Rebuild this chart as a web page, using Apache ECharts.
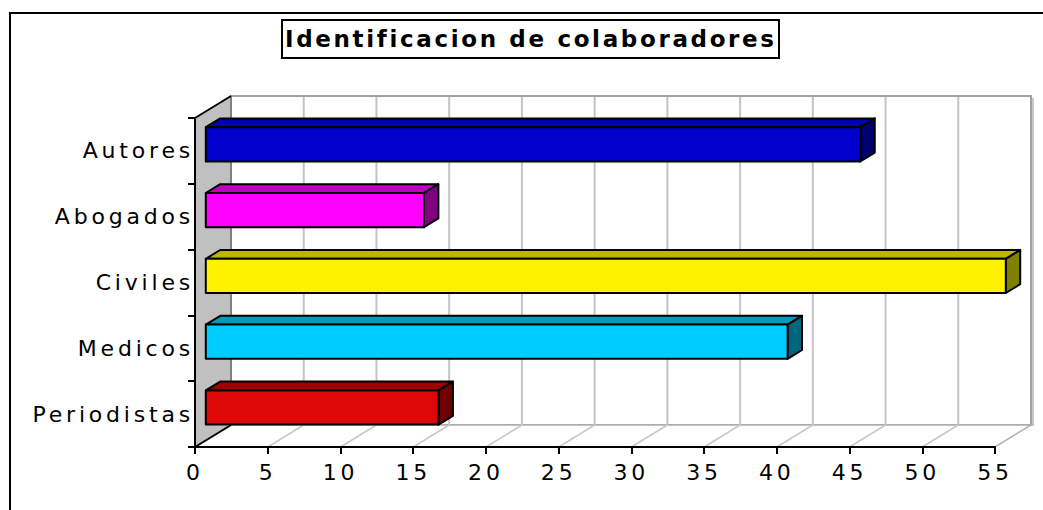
<!DOCTYPE html>
<html><head><meta charset="utf-8">
<script src="https://cdn.jsdelivr.net/npm/echarts@6/dist/echarts.min.js"></script>
<style>
html,body{margin:0;padding:0;background:#fff;}
#c{width:1043px;height:510px;}
#c svg text{letter-spacing:3.8px;}
#c svg text[style*="bold"]{letter-spacing:2.65px;}
</style></head><body><div id="c"></div>
<script>
const titleText = 'Identificacion de colaboradores';
const categories = ['Autores', 'Abogados', 'Civiles', 'Medicos', 'Periodistas'];
const values = [45, 15, 55, 40, 16];
const xTicks = [0, 5, 10, 15, 20, 25, 30, 35, 40, 45, 50, 55];
const frontColors = ['#0000CC', '#FF00FF', '#FFF200', '#00CCFF', '#DD0808'];
const topColors = ['#0000B4', '#C000C0', '#C0B600', '#0099C0', '#A00000'];
const sideColors = ['#000070', '#800080', '#808000', '#006680', '#700000'];

const DX = 36, DY = -22;      // depth offset of the back wall
const F1 = 0.3, F2 = 0.7;     // bar depth placement
const FONT = 'DejaVu Sans';

const chart = echarts.init(document.getElementById('c'), null, {renderer: 'svg'});

function wallsRender(params, api) {
  const cs = params.coordSys;
  const L = cs.x, T = cs.y, R = cs.x + cs.width, B = cs.y + cs.height;
  return {
    type: 'group',
    children: [
      {type: 'polygon', shape: {points: [[L + DX, T + DY], [R + DX, T + DY], [R + DX, B + DY], [L + DX, B + DY]]},
       style: {fill: '#fff', stroke: '#a0a0a0', lineWidth: 2}},
      {type: 'line', shape: {x1: R + DX + 2, y1: T + DY + 2, x2: R + DX + 2, y2: B + DY + 1},
       style: {stroke: '#c8c8c8', lineWidth: 2}},
      {type: 'polygon', shape: {points: [[L, B], [L + DX, B + DY], [R + DX, B + DY], [R, B]]},
       style: {fill: '#fff', stroke: '#b0b0b0', lineWidth: 1.5}},
      {type: 'polygon', shape: {points: [[L, T], [L + DX, T + DY], [L + DX, B + DY], [L, B]]},
       style: {fill: '#c0c0c0', stroke: null}},
      {type: 'line', shape: {x1: L + DX, y1: T + DY, x2: L + DX, y2: B + DY}, style: {stroke: '#808080', lineWidth: 2}},
      {type: 'line', shape: {x1: L, y1: T, x2: L + DX, y2: T + DY}, style: {stroke: '#000', lineWidth: 2}},
      {type: 'line', shape: {x1: L, y1: B, x2: L + DX, y2: B + DY}, style: {stroke: '#000', lineWidth: 2}}
    ]
  };
}

function gridRender(params, api) {
  const cs = params.coordSys;
  const T = cs.y, B = cs.y + cs.height;
  const v = api.value(0);
  const x = api.coord([v, 0])[0];
  if (v === 0 || v === 55) return {type: 'group', children: []};
  return {
    type: 'group',
    children: [
      {type: 'line', shape: {x1: x + DX, y1: T + DY + 1, x2: x + DX, y2: B + DY}, style: {stroke: '#c4c4c4', lineWidth: 2}},
      {type: 'line', shape: {x1: x, y1: B, x2: x + DX, y2: B + DY}, style: {stroke: '#c8c8c8', lineWidth: 1.5}}
    ]
  };
}

function barRender(params, api) {
  const i = params.dataIndex;
  const v = api.value(0), cat = api.value(1);
  const c0 = api.coord([0, cat]);
  const c1 = api.coord([v, cat]);
  const band = api.size([0, 1])[1];
  const h = band * 0.26;
  const fx0 = c0[0] + DX * F1, fx1 = c1[0] + DX * F1, fy = c0[1] + DY * F1;
  const ddx = DX * (F2 - F1), ddy = DY * (F2 - F1);
  const edge = {stroke: '#000', lineWidth: 2, lineJoin: 'round'};
  return {
    type: 'group',
    children: [
      {type: 'polygon', shape: {points: [[fx0, fy - h], [fx0 + ddx, fy - h + ddy], [fx1 + ddx, fy - h + ddy], [fx1, fy - h]]},
       style: Object.assign({fill: topColors[i]}, edge)},
      {type: 'polygon', shape: {points: [[fx1, fy - h], [fx1 + ddx, fy - h + ddy], [fx1 + ddx, fy + h + ddy], [fx1, fy + h]]},
       style: Object.assign({fill: sideColors[i]}, edge)},
      {type: 'rect', shape: {x: fx0, y: fy - h, width: fx1 - fx0, height: 2 * h},
       style: Object.assign({fill: frontColors[i]}, edge)}
    ]
  };
}

chart.setOption({
  animation: false,
  backgroundColor: '#fff',
  title: {
    text: titleText, left: 285, top: 27, padding: 0,
    textStyle: {fontFamily: FONT, fontSize: 23, fontWeight: 'bold', color: '#000'}
  },
  graphic: [
    {type: 'rect', shape: {x: 10, y: 13, width: 1100, height: 600}, style: {fill: 'none', stroke: '#000', lineWidth: 2}, z: 100},
    {type: 'rect', shape: {x: 282, y: 20, width: 497, height: 38}, style: {fill: 'none', stroke: '#000', lineWidth: 2}, z: 100}
  ],
  grid: {left: 195, top: 118, width: 800, height: 329, containLabel: false},
  xAxis: {
    type: 'value', min: 0, max: 55, interval: 5, z: 10,
    axisLine: {show: true, lineStyle: {color: '#000', width: 2}},
    axisTick: {show: true, length: 7, lineStyle: {color: '#000', width: 2}},
    axisLabel: {fontFamily: FONT, fontSize: 22, color: '#000', margin: 14,
      formatter: function (val) { return xTicks.indexOf(val) >= 0 ? String(val) : ''; }},
    splitLine: {show: false}
  },
  yAxis: {
    type: 'category', data: categories, inverse: true, z: 10,
    axisLine: {show: true, lineStyle: {color: '#000', width: 2}},
    axisTick: {show: true, length: 7, lineStyle: {color: '#000', width: 2}},
    axisLabel: {fontFamily: FONT, fontSize: 22, color: '#000', margin: 1},
    splitLine: {show: false}
  },
  series: [
    {type: 'custom', name: 'walls', renderItem: wallsRender, data: [[0, 0]], z: 1, silent: true},
    {type: 'custom', name: 'grid', renderItem: gridRender, data: xTicks.map(function (t) { return [t, 0]; }), z: 2, silent: true},
    {type: 'custom', name: 'Colaboradores', renderItem: barRender,
     data: values.map(function (v, i) { return [v, i]; }), encode: {x: 0, y: 1}, z: 3}
  ]
});
</script></body></html>
